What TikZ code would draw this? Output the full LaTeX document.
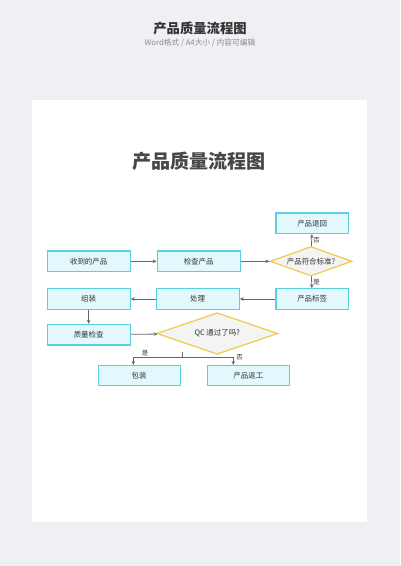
\documentclass[tikz,border=0pt]{standalone}
\usepackage{fontspec}
\setmainfont{Noto Sans CJK SC}
\usetikzlibrary{shapes.geometric,arrows.meta}
\definecolor{pagebg}{HTML}{EEF0F4}
\definecolor{boxfill}{HTML}{E3F8FC}
\definecolor{boxline}{HTML}{5CCFDF}
\definecolor{diafill}{HTML}{F4F4F4}
\definecolor{dialine}{HTML}{F2C94C}
\definecolor{linegray}{HTML}{666666}
\definecolor{txt}{HTML}{333333}
\tikzset{
  procbox/.style={draw=boxline, fill=boxfill, line width=0.9pt, minimum width=83*0.75pt, minimum height=20.5*0.75pt, inner sep=0pt, text=txt, font=\fontsize{5.6pt}{6pt}\selectfont},
  decbox/.style={diamond, draw=dialine, fill=diafill, line width=0.9pt, inner sep=0pt, text=txt, font=\fontsize{5.6pt}{6pt}\selectfont, aspect=2.8},
  conn/.style={draw=linegray, line width=0.6pt, -{Stealth[length=3pt,width=2.6pt]}},
  plain/.style={draw=linegray, line width=0.6pt},
  lbl/.style={text=txt, font=\fontsize{4.8pt}{5pt}\selectfont, inner sep=1pt}
}
\begin{document}
\begin{tikzpicture}[x=0.75pt,y=-0.75pt]
\useasboundingbox (0,0) rectangle (400,566);
\fill[pagebg] (0,0) rectangle (400,566);
\fill[black!6] (31.5,99.5) rectangle (368,523.5);
\fill[white] (32.3,100) rectangle (367.3,522.3);
% header
\node[text=txt, font=\fontsize{10pt}{12pt}\selectfont\bfseries] (htitle) at (200,28) {产品质量流程图};
\node[text=black!45, font=\fontsize{5.8pt}{7pt}\selectfont] (hsub) at (200,42.5) {Word格式 / A4大小 / 内容可编辑};
% inner title
\node[text=black!72, font=\fontsize{14.3pt}{16pt}\selectfont\bfseries] (title) at (199,161) {产品质量流程图};
% nodes
\node[procbox] (recv) at (88.7,261.3) {收到的产品};
\node[procbox] (check) at (198.7,261.3) {检查产品};
\node[decbox, minimum width=82*0.75pt, minimum height=29.5*0.75pt] (std) at (311,261.3) {产品符合标准?};
\node[procbox, minimum width=72.5*0.75pt] (ret) at (312.2,223.3) {产品退回};
\node[procbox, minimum width=72.5*0.75pt] (label) at (312.2,299) {产品标签};
\node[procbox] (proc) at (197.7,299) {处理};
\node[procbox] (asm) at (88.7,299) {组装};
\node[procbox] (qc) at (88.7,334.7) {质量检查};
\node[decbox, minimum width=121*0.75pt, minimum height=41.6*0.75pt] (qcd) at (217.2,333.5) {QC 通过了吗?};
\node[procbox, minimum width=82*0.75pt] (pack) at (139.2,375.5) {包装};
\node[procbox, minimum width=82*0.75pt] (rework) at (248.3,375.5) {产品返工};
% connectors
\draw[conn] (recv) -- (check);
\draw[conn] (check) -- (std);
\draw[conn] (std) -- node[lbl, right] {否} (ret);
\draw[conn] (std) -- node[lbl, right] {是} (label);
\draw[conn] (label) -- (proc);
\draw[conn] (proc) -- (asm);
\draw[conn] (asm) -- (qc);
\draw[conn] (qc) -- (qcd);
\coordinate (stubtop) at (182.3,351.8);
\coordinate (split) at (182.3,357.7);
\draw[plain] (stubtop) -- (split);
\draw[conn] (split) -- (133.3,357.7) -- (133.3,365) coordinate (packin);
\draw[conn] (split) -- (233.3,357.7) -- (233.3,365) coordinate (rwin);
\node[lbl] (yes) at (145,353) {是};
\node[lbl] (no) at (239.5,357.5) {否};
\end{tikzpicture}
\end{document}
